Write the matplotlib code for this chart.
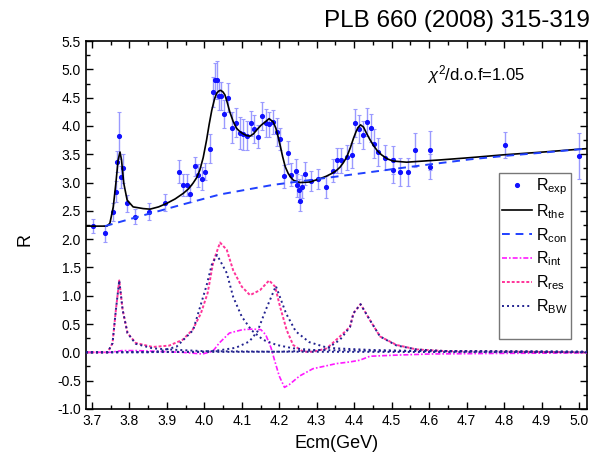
import numpy as np
import matplotlib
matplotlib.use('Agg')
import matplotlib.pyplot as plt
from matplotlib.lines import Line2D
from matplotlib.ticker import MultipleLocator

plt.rcParams['font.family'] = ['Liberation Sans', 'DejaVu Sans']
plt.rcParams['mathtext.fontset'] = 'custom'
plt.rcParams['mathtext.rm'] = 'Liberation Sans'
plt.rcParams['mathtext.it'] = 'Liberation Sans:italic'

# measured R values with errors
exp_E = [3.703, 3.735, 3.755, 3.763, 3.768, 3.772, 3.777, 3.782, 3.794, 3.815,
         3.853, 3.895, 3.933, 3.944, 3.954, 3.963, 3.974, 3.984, 3.994, 4.003,
         4.014, 4.024, 4.029, 4.034, 4.039, 4.044, 4.053, 4.064, 4.074, 4.084,
         4.095, 4.104, 4.114, 4.124, 4.133, 4.144, 4.153, 4.164, 4.173, 4.184,
         4.193, 4.203, 4.213, 4.224, 4.232, 4.245, 4.248, 4.253, 4.255, 4.262,
         4.269, 4.284, 4.304, 4.324, 4.343, 4.353, 4.364, 4.382, 4.393, 4.403,
         4.414, 4.423, 4.433, 4.444, 4.454, 4.463, 4.482, 4.503, 4.503, 4.522,
         4.544, 4.563, 4.602, 4.602, 4.803, 5.001]
exp_R = [2.23, 2.10, 2.48, 2.84, 3.37, 3.83, 3.10, 3.25, 2.63, 2.40,
         2.48, 2.64, 3.19, 2.96, 2.96, 2.80, 3.29, 3.13, 3.07, 3.19,
         3.60, 4.60, 4.81, 4.81, 4.53, 4.53, 4.21, 4.50, 3.97, 4.06,
         3.87, 3.85, 3.83, 4.05, 3.95, 3.81, 4.18, 4.05, 4.03, 4.07,
         3.89, 3.77, 3.11, 3.53, 3.14, 3.21, 2.95, 2.86, 2.68, 2.93,
         3.16, 3.03, 3.06, 2.92, 3.21, 3.39, 3.39, 3.45, 3.48, 4.05,
         3.95, 3.84, 4.07, 3.97, 3.69, 3.54, 3.44, 3.40, 3.22, 3.19,
         3.19, 3.57, 3.57, 3.28, 3.67, 3.47]
exp_err = [0.12, 0.15, 0.16, 0.19, 0.18, 0.41, 0.20, 0.25, 0.15, 0.13,
           0.15, 0.15, 0.20, 0.20, 0.20, 0.15, 0.17, 0.20, 0.20, 0.15,
           0.25, 0.26, 0.30, 0.33, 0.25, 0.25, 0.25, 0.26, 0.27, 0.25,
           0.28, 0.27, 0.25, 0.22, 0.25, 0.20, 0.25, 0.25, 0.22, 0.22,
           0.25, 0.20, 0.20, 0.20, 0.20, 0.20, 0.20, 0.20, 0.18, 0.20,
           0.20, 0.18, 0.18, 0.20, 0.20, 0.22, 0.22, 0.22, 0.22, 0.25,
           0.25, 0.25, 0.25, 0.25, 0.25, 0.25, 0.22, 0.25, 0.22, 0.25,
           0.25, 0.30, 0.34, 0.22, 0.23, 0.41]

# fitted total
the_E = [3.684, 3.740, 3.748, 3.757, 3.764, 3.770, 3.775, 3.779, 3.785, 3.794,
         3.810, 3.837, 3.855, 3.878, 3.899, 3.922, 3.944, 3.958, 3.970, 3.980,
         3.988, 3.997, 4.006, 4.013, 4.020, 4.027, 4.033, 4.039, 4.044, 4.050,
         4.055, 4.061, 4.068, 4.077, 4.086, 4.095, 4.104, 4.113, 4.122, 4.131,
         4.140, 4.151, 4.162, 4.173, 4.184, 4.191, 4.197, 4.203, 4.209, 4.216,
         4.224, 4.231, 4.238, 4.255, 4.282, 4.309, 4.325, 4.340, 4.352, 4.362,
         4.371, 4.380, 4.390, 4.398, 4.405, 4.410, 4.417, 4.425, 4.433, 4.442,
         4.451, 4.462, 4.473, 4.488, 4.504, 4.540, 4.584, 4.629, 4.709, 4.798,
         4.905, 5.021]
the_R = [2.23, 2.23, 2.28, 2.57, 2.99, 3.40, 3.54, 3.40, 2.99, 2.69,
         2.57, 2.54, 2.53, 2.57, 2.63, 2.71, 2.81, 2.89, 2.99, 3.09,
         3.22, 3.44, 3.75, 4.03, 4.28, 4.47, 4.58, 4.62, 4.63, 4.60,
         4.55, 4.42, 4.25, 4.08, 3.96, 3.90, 3.86, 3.83, 3.82, 3.86,
         3.93, 4.01, 4.07, 4.13, 4.07, 3.96, 3.81, 3.64, 3.46, 3.28,
         3.16, 3.09, 3.04, 3.00, 3.01, 3.07, 3.11, 3.16, 3.21, 3.27,
         3.35, 3.45, 3.62, 3.78, 3.90, 3.97, 4.02, 3.98, 3.87, 3.76,
         3.66, 3.56, 3.49, 3.42, 3.38, 3.36, 3.38, 3.40, 3.44, 3.49,
         3.54, 3.60]

# continuum
con_E = [3.735, 3.815, 3.935, 4.042, 4.184, 4.300, 4.415, 4.540, 4.709, 4.800, 4.905, 5.021]
con_R = [2.23, 2.38, 2.60, 2.79, 2.96, 3.06, 3.16, 3.27, 3.41, 3.47, 3.53, 3.60]

# interference term
int_E = [3.684, 3.750, 3.780, 3.820, 3.860, 3.940, 3.995, 4.023, 4.040, 4.067,
         4.102, 4.129, 4.151, 4.164, 4.178, 4.187, 4.200, 4.214, 4.227, 4.254,
         4.290, 4.325, 4.352, 4.389, 4.415, 4.442, 4.513, 4.602, 4.780, 5.021]
int_R = [0.00, 0.00, 0.03, 0.03, 0.02, 0.00, -0.03, 0.02, 0.165, 0.34,
         0.40, 0.41, 0.40, 0.31, 0.08, -0.13, -0.42, -0.62, -0.57, -0.42,
         -0.29, -0.24, -0.20, -0.17, -0.14, -0.07, -0.05, -0.03, -0.02, -0.01]

# resonance sum
res_E = [3.684, 3.742, 3.755, 3.764, 3.773, 3.782, 3.795, 3.817, 3.862, 3.906,
         3.942, 3.969, 3.991, 4.009, 4.024, 4.042, 4.060, 4.077, 4.100, 4.122,
         4.149, 4.173, 4.189, 4.202, 4.220, 4.237, 4.264, 4.291, 4.327, 4.362,
         4.389, 4.398, 4.417, 4.442, 4.469, 4.513, 4.567, 4.647, 5.021]
res_R = [0.00, 0.00, 0.16, 0.75, 1.27, 0.75, 0.34, 0.165, 0.094, 0.118,
         0.22, 0.40, 0.69, 1.05, 1.60, 1.94, 1.81, 1.45, 1.16, 1.01,
         1.10, 1.27, 1.16, 0.81, 0.39, 0.13, 0.01, 0.01, 0.07, 0.28,
         0.45, 0.69, 0.85, 0.57, 0.28, 0.13, 0.05, 0.02, 0.00]

# individual Breit-Wigner resonances
bw1_E = [3.684, 3.742, 3.755, 3.764, 3.773, 3.782, 3.795, 3.817, 3.862, 3.906, 4.000, 4.200, 5.021]
bw1_R = [0.00, 0.00, 0.16, 0.75, 1.27, 0.75, 0.34, 0.15, 0.07, 0.05, 0.02, 0.01, 0.00]
bw2_E = [3.684, 3.850, 3.882, 3.926, 3.970, 4.006, 4.020, 4.034, 4.060, 4.077,
         4.100, 4.126, 4.157, 4.193, 4.237, 4.291, 4.400, 4.600, 5.021]
bw2_R = [0.00, 0.00, 0.02, 0.10, 0.39, 1.18, 1.55, 1.72, 1.40, 0.98,
         0.63, 0.39, 0.22, 0.13, 0.07, 0.04, 0.03, 0.02, 0.01]
bw3_E = [3.684, 3.995, 4.040, 4.084, 4.120, 4.142, 4.164, 4.191, 4.218, 4.244,
         4.280, 4.324, 4.350, 4.450, 4.600, 5.021]
bw3_R = [0.00, 0.01, 0.035, 0.08, 0.19, 0.37, 0.75, 1.17, 0.69, 0.37,
         0.18, 0.09, 0.07, 0.04, 0.02, 0.01]
bw4_E = [3.684, 4.200, 4.290, 4.324, 4.362, 4.389, 4.398, 4.417, 4.442, 4.469,
         4.513, 4.567, 4.650, 5.021]
bw4_R = [0.00, 0.01, 0.03, 0.05, 0.22, 0.45, 0.69, 0.85, 0.57, 0.28,
         0.12, 0.05, 0.02, 0.005]

fig = plt.figure(figsize=(6.05, 4.62), dpi=100)
ax = fig.add_axes([0.142, 0.115, 0.828, 0.796])

# data with error bars
ax.errorbar(exp_E, exp_R, yerr=exp_err, fmt='none', ecolor='#9a9aff',
            elinewidth=1.0, capsize=1.6, capthick=0.8, zorder=2)
ax.plot(exp_E, exp_R, 'o', color='#1010ff', ms=2.7, zorder=3)

# fit components
ax.plot(the_E, the_R, '-', color='black', lw=1.2, zorder=4)
ax.plot(con_E, con_R, '--', color='#2040ff', lw=1.4, dashes=(4, 3), zorder=4)
ax.plot(int_E, int_R, color='#ff1aff', lw=1.2, dashes=(3, 1.2, 1, 1.2), zorder=4)
ax.plot(res_E, res_R, color='#ff3399', lw=1.4, dashes=(1.5, 1), zorder=4)
for bx, by in [(bw1_E, bw1_R), (bw2_E, bw2_R), (bw3_E, bw3_R), (bw4_E, bw4_R)]:
    ax.plot(bx, by, color='#22228f', lw=1.4, dashes=(1, 1.6), zorder=5)

ax.set_xlim(3.684, 5.021)
ax.set_ylim(-1.0, 5.5)
ax.xaxis.set_major_locator(MultipleLocator(0.1))
ax.xaxis.set_minor_locator(MultipleLocator(0.05))
ax.yaxis.set_major_locator(MultipleLocator(0.5))
ax.yaxis.set_minor_locator(MultipleLocator(0.25))
ax.xaxis.set_major_formatter(plt.FuncFormatter(lambda v, p: f'{v:.1f}'))
ax.yaxis.set_major_formatter(plt.FuncFormatter(lambda v, p: f'{v:.1f}'))
ax.tick_params(which='both', direction='in', top=True, right=True, labelsize=10)
ax.tick_params(which='major', length=5, width=1)
ax.tick_params(which='minor', length=3, width=1)
for s in ax.spines.values():
    s.set_linewidth(1.2)

ax.set_xlabel('Ecm(GeV)', fontsize=13, labelpad=5)
ax.set_ylabel('R', fontsize=13)
ax.yaxis.set_label_coords(-0.105, 0.46)

ax.text(0.778, 0.908, r'$\chi^2$/d.o.f=1.05', transform=ax.transAxes,
        ha='center', va='center', fontsize=12)
fig.text(0.975, 0.955, 'PLB 660 (2008) 315-319', ha='right', va='center', fontsize=17.5)

handles = [
    Line2D([], [], ls='none', marker='o', ms=2.7, color='#1010ff'),
    Line2D([], [], color='black', lw=1.2),
    Line2D([], [], color='#2040ff', lw=1.4, dashes=(4, 3)),
    Line2D([], [], color='#ff1aff', lw=1.2, dashes=(3, 1.2, 1, 1.2)),
    Line2D([], [], color='#ff3399', lw=1.4, dashes=(1.5, 1)),
    Line2D([], [], color='#22228f', lw=1.4, dashes=(1, 1.6)),
    Line2D([], [], ls='none'),
]
labels = [r'R$_{\rm exp}$', r'R$_{\rm the}$', r'R$_{\rm con}$', r'R$_{\rm int}$',
          r'R$_{\rm res}$', r'R$_{\rm BW}$', ' ']
leg = ax.legend(handles, labels, loc='upper left', bbox_to_anchor=(0.824, 0.641),
                fontsize=11.5, frameon=True, fancybox=False, borderpad=0.2,
                handlelength=1.9, handletextpad=0.25, labelspacing=0.32,
                borderaxespad=0)
leg.get_frame().set_edgecolor('#555555')
leg.get_frame().set_linewidth(1.0)

fig.savefig('out.png', dpi=100)
